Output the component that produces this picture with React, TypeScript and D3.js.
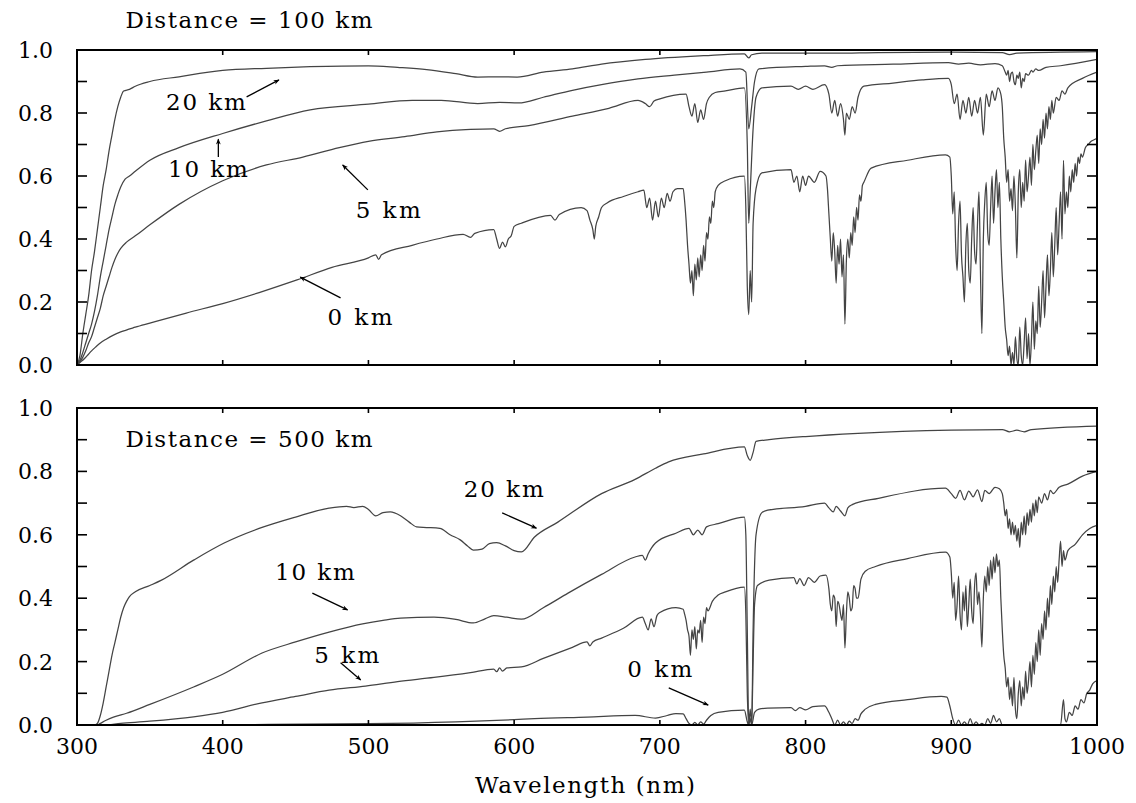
import React from "react";
import * as d3 from "d3";

type Pt = [number, number];

// ---------- Distance = 100 km ----------
const top20km: Pt[] = [
  [300, 0], [302, 0.03], [304, 0.1], [306, 0.16], [308, 0.22], [310, 0.3], [312, 0.36], [314, 0.43],
  [316, 0.5], [318, 0.57], [320, 0.62], [322, 0.68], [324, 0.73], [326, 0.78], [328, 0.82], [330, 0.85],
  [332, 0.87], [336, 0.875], [340, 0.885], [350, 0.9], [370, 0.915], [400, 0.935], [430, 0.942], [460, 0.947],
  [500, 0.95], [520, 0.945], [540, 0.938], [560, 0.925], [575, 0.914], [590, 0.915], [602, 0.914], [620, 0.93],
  [640, 0.94], [660, 0.955], [690, 0.97], [730, 0.982], [758, 0.988], [761, 0.975], [763, 0.985], [770, 0.99],
  [820, 0.99], [850, 0.992], [900, 0.993], [935, 0.992], [940, 0.985], [945, 0.99], [1000, 0.995],
];
const top10km: Pt[] = [
  [300, 0], [302, 0.015], [304, 0.04], [306, 0.07], [308, 0.1], [310, 0.13], [312, 0.17], [314, 0.22],
  [316, 0.28], [318, 0.33], [320, 0.38], [322, 0.43], [324, 0.47], [326, 0.51], [328, 0.54], [330, 0.565],
  [333, 0.59], [336, 0.6], [340, 0.615], [350, 0.65], [370, 0.69], [400, 0.735], [430, 0.775], [460, 0.81],
  [500, 0.828], [530, 0.84], [550, 0.84], [575, 0.83], [590, 0.834], [603, 0.832], [620, 0.85], [640, 0.872],
  [660, 0.89], [685, 0.908], [710, 0.92], [732, 0.93], [755, 0.94], [759, 0.93], [761, 0.75], [763, 0.82],
  [765, 0.9], [768, 0.94], [800, 0.948], [813, 0.95], [818, 0.945], [822, 0.95], [860, 0.955], [898, 0.96],
  [905, 0.955], [912, 0.958], [920, 0.953], [930, 0.957], [935, 0.95], [937, 0.93], [938, 0.92], [939, 0.935],
  [940, 0.9], [941, 0.925], [942, 0.93], [943, 0.9], [944, 0.89], [945, 0.92], [946, 0.91], [947, 0.93],
  [948, 0.88], [949, 0.91], [950, 0.9], [951, 0.925], [953, 0.92], [955, 0.935], [956, 0.93], [958, 0.94],
  [960, 0.935], [965, 0.945], [975, 0.95], [1000, 0.97],
];
const top5km: Pt[] = [
  [300, 0], [302, 0.01], [304, 0.025], [306, 0.045], [308, 0.07], [310, 0.09], [312, 0.12], [314, 0.15],
  [316, 0.18], [318, 0.22], [320, 0.25], [322, 0.28], [324, 0.31], [326, 0.335], [328, 0.355], [330, 0.37],
  [334, 0.39], [340, 0.41], [350, 0.445], [370, 0.51], [400, 0.585], [430, 0.635], [455, 0.66], [480, 0.69],
  [500, 0.71], [525, 0.725], [547, 0.74], [570, 0.748], [586, 0.75], [590, 0.742], [594, 0.75], [610, 0.76],
  [640, 0.79], [665, 0.815], [685, 0.84], [690, 0.83], [693, 0.82], [696, 0.838], [700, 0.845], [718, 0.86],
  [720, 0.82], [722, 0.79], [724, 0.83], [726, 0.77], [728, 0.81], [730, 0.78], [732, 0.83], [734, 0.85],
  [738, 0.865], [745, 0.87], [758, 0.88], [760, 0.7], [761, 0.45], [762, 0.55], [764, 0.75], [766, 0.85],
  [770, 0.88], [790, 0.885], [795, 0.875], [800, 0.885], [805, 0.875], [813, 0.89], [816, 0.86], [818, 0.8],
  [820, 0.84], [822, 0.79], [824, 0.83], [826, 0.78], [827, 0.73], [828, 0.8], [830, 0.78], [832, 0.82],
  [834, 0.8], [836, 0.85], [840, 0.885], [860, 0.895], [880, 0.905], [898, 0.91], [900, 0.89], [902, 0.83],
  [904, 0.86], [906, 0.78], [908, 0.84], [910, 0.8], [912, 0.85], [914, 0.79], [916, 0.84], [918, 0.8],
  [920, 0.85], [922, 0.73], [924, 0.86], [926, 0.82], [928, 0.87], [930, 0.84], [932, 0.88], [934, 0.86],
  [935, 0.82], [936, 0.72], [937, 0.66], [938, 0.58], [939, 0.62], [940, 0.52], [941, 0.56], [942, 0.49],
  [943, 0.6], [944, 0.5], [945, 0.34], [946, 0.55], [947, 0.62], [948, 0.5], [949, 0.58], [950, 0.52],
  [951, 0.65], [952, 0.55], [953, 0.6], [954, 0.66], [955, 0.57], [956, 0.7], [957, 0.62], [958, 0.68],
  [959, 0.73], [960, 0.64], [961, 0.75], [962, 0.7], [963, 0.78], [964, 0.72], [965, 0.8], [966, 0.75],
  [967, 0.82], [968, 0.78], [969, 0.84], [970, 0.8], [972, 0.85], [974, 0.84], [976, 0.87], [978, 0.86],
  [980, 0.88], [990, 0.91], [1000, 0.93],
];
const top0km: Pt[] = [
  [300, 0], [302, 0.008], [305, 0.02], [308, 0.035], [310, 0.045], [313, 0.058], [316, 0.07], [320, 0.082],
  [325, 0.095], [330, 0.105], [340, 0.12], [350, 0.133], [375, 0.165], [400, 0.195], [425, 0.23], [451, 0.27],
  [475, 0.31], [500, 0.34], [505, 0.35], [507, 0.335], [509, 0.35], [530, 0.38], [547, 0.4], [565, 0.415],
  [570, 0.405], [573, 0.418], [586, 0.43], [588, 0.4], [590, 0.37], [592, 0.39], [594, 0.375], [596, 0.4],
  [598, 0.41], [600, 0.44], [605, 0.45], [625, 0.475], [628, 0.46], [631, 0.478], [646, 0.5], [650, 0.49],
  [652, 0.46], [654, 0.43], [655, 0.4], [656, 0.44], [658, 0.47], [660, 0.5], [664, 0.515], [675, 0.535],
  [685, 0.55], [689, 0.555], [691, 0.5], [693, 0.53], [695, 0.46], [697, 0.52], [699, 0.47], [701, 0.53],
  [703, 0.5], [705, 0.545], [707, 0.52], [709, 0.55], [712, 0.56], [716, 0.56], [717, 0.52], [718, 0.46],
  [719, 0.38], [720, 0.32], [721, 0.26], [722, 0.3], [723, 0.22], [724, 0.32], [725, 0.27], [726, 0.34],
  [727, 0.28], [728, 0.35], [729, 0.3], [730, 0.38], [731, 0.33], [732, 0.42], [733, 0.4], [734, 0.47],
  [735, 0.45], [736, 0.52], [737, 0.5], [738, 0.55], [740, 0.57], [745, 0.585], [758, 0.6], [759, 0.5],
  [760, 0.25], [761, 0.16], [762, 0.3], [763, 0.2], [764, 0.45], [766, 0.56], [770, 0.61], [790, 0.62],
  [792, 0.58], [794, 0.6], [796, 0.55], [798, 0.6], [800, 0.57], [802, 0.6], [806, 0.58], [810, 0.615],
  [814, 0.6], [815, 0.56], [816, 0.48], [817, 0.4], [818, 0.33], [819, 0.42], [820, 0.36], [821, 0.26],
  [822, 0.38], [823, 0.32], [824, 0.4], [825, 0.28], [826, 0.35], [827, 0.13], [828, 0.33], [829, 0.4],
  [830, 0.34], [831, 0.42], [832, 0.38], [833, 0.47], [834, 0.42], [835, 0.5], [836, 0.46], [837, 0.54],
  [838, 0.52], [839, 0.57], [840, 0.58], [845, 0.625], [870, 0.65], [896, 0.667], [899, 0.66], [900, 0.6],
  [901, 0.48], [902, 0.55], [903, 0.38], [904, 0.3], [905, 0.45], [906, 0.52], [907, 0.35], [908, 0.28],
  [909, 0.2], [910, 0.38], [911, 0.45], [912, 0.3], [913, 0.26], [914, 0.4], [915, 0.5], [916, 0.36],
  [917, 0.32], [918, 0.45], [919, 0.55], [920, 0.3], [921, 0.1], [922, 0.4], [923, 0.52], [924, 0.58],
  [925, 0.42], [926, 0.38], [927, 0.5], [928, 0.6], [929, 0.45], [930, 0.55], [931, 0.62], [932, 0.5],
  [933, 0.58], [934, 0.4], [935, 0.28], [936, 0.2], [937, 0.12], [938, 0.08], [939, 0.03], [940, 0.06],
  [941, 0.0], [942, 0.04], [943, 0.0], [944, 0.09], [945, 0.02], [946, 0.0], [947, 0.12], [948, 0.03],
  [949, 0.0], [950, 0.07], [951, 0.15], [952, 0.02], [953, 0.1], [954, 0.0], [955, 0.08], [956, 0.2],
  [957, 0.05], [958, 0.14], [959, 0.1], [960, 0.25], [961, 0.12], [962, 0.2], [963, 0.3], [964, 0.15],
  [965, 0.25], [966, 0.35], [967, 0.22], [968, 0.3], [969, 0.42], [970, 0.28], [971, 0.38], [972, 0.5],
  [973, 0.35], [974, 0.45], [975, 0.55], [976, 0.4], [977, 0.65], [978, 0.48], [979, 0.55], [980, 0.5],
  [981, 0.6], [982, 0.55], [983, 0.62], [984, 0.58], [985, 0.64], [986, 0.6], [987, 0.66], [988, 0.64],
  [989, 0.67], [990, 0.66], [992, 0.69], [994, 0.7], [996, 0.71], [998, 0.715], [1000, 0.72],
];

// ---------- Distance = 500 km ----------
const bot20km: Pt[] = [
  [300, 0], [312, 0], [314, 0.005], [316, 0.03], [318, 0.07], [320, 0.12], [322, 0.17], [324, 0.22],
  [326, 0.26], [328, 0.3], [330, 0.34], [332, 0.37], [334, 0.39], [336, 0.405], [340, 0.42], [350, 0.44],
  [358, 0.457], [380, 0.52], [401, 0.574], [425, 0.62], [450, 0.656], [473, 0.684], [485, 0.69], [490, 0.686],
  [496, 0.69], [500, 0.68], [505, 0.66], [510, 0.67], [515, 0.672], [522, 0.66], [528, 0.64], [533, 0.625],
  [540, 0.623], [549, 0.62], [556, 0.6], [563, 0.584], [568, 0.565], [572, 0.552], [578, 0.555], [583, 0.572],
  [588, 0.575], [594, 0.565], [600, 0.55], [605, 0.546], [614, 0.593], [630, 0.64], [660, 0.73], [683, 0.775],
  [697, 0.81], [706, 0.83], [730, 0.855], [758, 0.877], [760, 0.85], [762, 0.835], [764, 0.86], [766, 0.895],
  [775, 0.9], [800, 0.91], [836, 0.92], [900, 0.93], [935, 0.932], [940, 0.925], [945, 0.93], [950, 0.925],
  [955, 0.932], [1000, 0.943],
];
const bot10km: Pt[] = [
  [300, 0], [314, 0], [316, 0.005], [320, 0.015], [325, 0.025], [334, 0.037], [350, 0.065], [380, 0.12],
  [400, 0.16], [427, 0.227], [450, 0.262], [473, 0.293], [496, 0.319], [510, 0.33], [522, 0.337], [545, 0.34],
  [560, 0.333], [572, 0.322], [580, 0.335], [586, 0.345], [595, 0.34], [605, 0.334], [620, 0.37], [637, 0.416],
  [660, 0.475], [683, 0.53], [688, 0.535], [690, 0.52], [692, 0.54], [697, 0.574], [711, 0.605], [720, 0.62],
  [723, 0.6], [726, 0.615], [729, 0.6], [732, 0.625], [740, 0.635], [758, 0.656], [759, 0.6], [760, 0.3],
  [761, 0.0], [762, 0.05], [763, 0.0], [764, 0.3], [766, 0.6], [770, 0.67], [774, 0.678], [800, 0.69],
  [813, 0.7], [816, 0.685], [819, 0.672], [821, 0.69], [824, 0.675], [827, 0.66], [829, 0.685], [832, 0.695],
  [850, 0.715], [896, 0.747], [900, 0.73], [903, 0.715], [906, 0.74], [909, 0.71], [912, 0.738], [915, 0.72],
  [918, 0.742], [921, 0.705], [923, 0.74], [926, 0.73], [930, 0.75], [933, 0.745], [935, 0.73], [936, 0.7],
  [937, 0.66], [938, 0.68], [939, 0.62], [940, 0.65], [941, 0.6], [942, 0.64], [943, 0.6], [944, 0.63],
  [945, 0.58], [946, 0.62], [947, 0.56], [948, 0.64], [949, 0.6], [950, 0.66], [951, 0.6], [952, 0.67],
  [953, 0.63], [954, 0.68], [955, 0.64], [956, 0.7], [957, 0.66], [958, 0.71], [959, 0.67], [960, 0.72],
  [962, 0.7], [964, 0.73], [966, 0.71], [968, 0.74], [970, 0.73], [974, 0.75], [980, 0.76], [990, 0.785],
  [1000, 0.8],
];
const bot5km: Pt[] = [
  [300, 0], [318, 0], [330, 0.005], [350, 0.012], [380, 0.026], [400, 0.04], [427, 0.07], [450, 0.09],
  [473, 0.11], [498, 0.123], [520, 0.137], [545, 0.15], [570, 0.165], [586, 0.176], [588, 0.168], [590, 0.18],
  [592, 0.17], [595, 0.18], [605, 0.183], [620, 0.21], [640, 0.245], [650, 0.262], [652, 0.25], [654, 0.262],
  [660, 0.274], [675, 0.305], [688, 0.34], [690, 0.32], [692, 0.3], [694, 0.335], [696, 0.31], [698, 0.345],
  [700, 0.355], [711, 0.37], [716, 0.365], [717, 0.35], [718, 0.33], [719, 0.3], [720, 0.28], [721, 0.22],
  [722, 0.3], [723, 0.27], [724, 0.31], [725, 0.24], [726, 0.3], [727, 0.29], [728, 0.33], [729, 0.26],
  [730, 0.34], [731, 0.32], [732, 0.37], [733, 0.36], [736, 0.39], [740, 0.41], [745, 0.42], [758, 0.435],
  [759, 0.35], [760, 0.1], [761, 0.0], [762, 0.02], [763, 0.0], [764, 0.2], [765, 0.38], [767, 0.44],
  [775, 0.457], [792, 0.465], [794, 0.445], [796, 0.462], [799, 0.44], [802, 0.465], [806, 0.45], [810, 0.47],
  [814, 0.473], [816, 0.43], [817, 0.38], [818, 0.36], [819, 0.41], [820, 0.4], [821, 0.31], [822, 0.39],
  [823, 0.38], [824, 0.35], [825, 0.33], [826, 0.38], [827, 0.243], [828, 0.35], [829, 0.42], [830, 0.4],
  [831, 0.36], [832, 0.37], [833, 0.44], [834, 0.43], [835, 0.4], [836, 0.4], [838, 0.46], [841, 0.485],
  [848, 0.5], [870, 0.525], [896, 0.545], [899, 0.53], [900, 0.48], [901, 0.4], [902, 0.45], [903, 0.33],
  [904, 0.38], [905, 0.47], [906, 0.35], [907, 0.3], [908, 0.42], [909, 0.36], [910, 0.44], [911, 0.31],
  [912, 0.38], [913, 0.46], [914, 0.36], [915, 0.32], [916, 0.44], [917, 0.48], [918, 0.38], [919, 0.42],
  [920, 0.35], [921, 0.246], [922, 0.4], [923, 0.47], [924, 0.42], [925, 0.5], [926, 0.44], [927, 0.52],
  [928, 0.46], [929, 0.53], [930, 0.48], [931, 0.54], [932, 0.5], [933, 0.52], [934, 0.4], [935, 0.3],
  [936, 0.22], [937, 0.18], [938, 0.12], [939, 0.15], [940, 0.08], [941, 0.12], [942, 0.06], [943, 0.15],
  [944, 0.05], [945, 0.02], [946, 0.1], [947, 0.14], [948, 0.06], [949, 0.12], [950, 0.08], [951, 0.17],
  [952, 0.1], [953, 0.14], [954, 0.2], [955, 0.12], [956, 0.22], [957, 0.16], [958, 0.26], [959, 0.2],
  [960, 0.3], [961, 0.22], [962, 0.32], [963, 0.27], [964, 0.36], [965, 0.3], [966, 0.4], [967, 0.34],
  [968, 0.44], [969, 0.38], [970, 0.47], [971, 0.42], [972, 0.5], [973, 0.45], [974, 0.52], [975, 0.58],
  [976, 0.5], [977, 0.55], [978, 0.52], [980, 0.55], [985, 0.57], [990, 0.6], [995, 0.62], [1000, 0.63],
];
const bot0km: Pt[] = [
  [300, 0], [330, 0], [400, 0.001], [500, 0.004], [560, 0.01], [600, 0.017], [614, 0.02], [650, 0.025],
  [683, 0.03], [697, 0.022], [705, 0.03], [711, 0.036], [716, 0.035], [718, 0.02], [720, 0.005], [722, 0.0],
  [724, 0.008], [726, 0.0], [728, 0.01], [730, 0.003], [732, 0.015], [735, 0.03], [740, 0.04], [758, 0.047],
  [760, 0.01], [761, 0.0], [763, 0.0], [765, 0.04], [768, 0.05], [774, 0.053], [790, 0.055], [793, 0.045],
  [796, 0.055], [800, 0.048], [805, 0.058], [813, 0.06], [816, 0.04], [818, 0.02], [820, 0.0], [822, 0.015],
  [824, 0.0], [826, 0.01], [828, 0.0], [830, 0.012], [832, 0.005], [834, 0.02], [836, 0.015], [838, 0.035],
  [841, 0.05], [848, 0.065], [870, 0.08], [893, 0.09], [897, 0.088], [899, 0.06], [901, 0.02], [903, 0.0],
  [905, 0.015], [907, 0.0], [909, 0.01], [911, 0.0], [913, 0.02], [915, 0.0], [917, 0.01], [919, 0.0],
  [921, 0.005], [923, 0.0], [925, 0.02], [927, 0.005], [929, 0.03], [931, 0.01], [933, 0.02], [935, 0.0],
  [975, 0.0], [977, 0.08], [978, 0.02], [979, 0.01], [981, 0.04], [983, 0.03], [985, 0.06], [987, 0.05],
  [989, 0.08], [991, 0.07], [993, 0.1], [995, 0.11], [997, 0.13], [1000, 0.14],
];

const xTicks = [300, 400, 500, 600, 700, 800, 900, 1000];
const yLabelTicks = [0, 0.2, 0.4, 0.6, 0.8, 1.0];
const yMinorTicks = [0, 0.1, 0.2, 0.3, 0.4, 0.5, 0.6, 0.7, 0.8, 0.9, 1.0];
const panelTitles = ["Distance = 100 km", "Distance = 500 km"];
const seriesNames = ["20 km", "10 km", "5 km", "0 km"];
const xAxisTitle = "Wavelength (nm)";

// annotations: label anchor (wavelength, value), arrow tail and head in data units
type Ann = { text: string; at: Pt; tail: Pt; head: Pt };
const topAnnotations: Ann[] = [
  { text: seriesNames[0], at: [361, 0.81], tail: [416.4, 0.851], head: [438.6, 0.905] },
  { text: seriesNames[1], at: [362.4, 0.597], tail: [397.0, 0.66], head: [397.0, 0.717] },
  { text: seriesNames[2], at: [491.3, 0.467], tail: [499.6, 0.556], head: [482.3, 0.635] },
  { text: seriesNames[3], at: [471.9, 0.127], tail: [480.9, 0.213], head: [453.2, 0.279] },
];
const botAnnotations: Ann[] = [
  { text: seriesNames[0], at: [565.4, 0.719], tail: [591.8, 0.669], head: [615.3, 0.621] },
  { text: seriesNames[1], at: [435.8, 0.457], tail: [461.5, 0.416], head: [485.7, 0.363] },
  { text: seriesNames[2], at: [462.9, 0.196], tail: [480.9, 0.196], head: [494.7, 0.142] },
  { text: seriesNames[3], at: [677.7, 0.151], tail: [706.1, 0.117], head: [733.2, 0.063] },
];
const titleAnchors: Pt[] = [[333.3, 1.07], [333.3, 0.877]];

const FONT = "'DejaVu Serif', 'Liberation Serif', serif";
const W = 1136;
const H = 803;
const LEFT = 77;
const RIGHT = 1097;

const panelsLayout = [
  { top: 50, bottom: 365, series: [top20km, top10km, top5km, top0km], ann: topAnnotations, showX: false },
  { top: 408, bottom: 725, series: [bot20km, bot10km, bot5km, bot0km], ann: botAnnotations, showX: true },
];

const x = d3.scaleLinear().domain([300, 1000]).range([LEFT, RIGHT]);

function Panel({ idx }: { idx: number }) {
  const p = panelsLayout[idx];
  const y = d3.scaleLinear().domain([0, 1]).range([p.bottom, p.top]);
  const line = d3
    .line<Pt>()
    .x((d) => x(d[0]))
    .y((d) => y(d[1]))
    .curve(d3.curveMonotoneX);
  const clipId = `clip${idx}`;
  return (
    <g>
      <defs>
        <clipPath id={clipId}>
          <rect x={LEFT} y={p.top} width={RIGHT - LEFT} height={p.bottom - p.top} />
        </clipPath>
      </defs>
      <g clipPath={`url(#${clipId})`}>
        {p.series.map((s, i) => (
          <path key={i} d={line(s) || ""} fill="none" stroke="#444" strokeWidth={1.25} />
        ))}
      </g>
      <rect x={LEFT} y={p.top} width={RIGHT - LEFT} height={p.bottom - p.top} fill="none" stroke="#000" strokeWidth={2} />
      {yMinorTicks.map((t) => (
        <g key={t}>
          <line x1={LEFT} x2={LEFT + 10} y1={y(t)} y2={y(t)} stroke="#000" strokeWidth={1.6} />
          <line x1={RIGHT - 10} x2={RIGHT} y1={y(t)} y2={y(t)} stroke="#000" strokeWidth={1.6} />
        </g>
      ))}
      {xTicks.map((t) => (
        <g key={t}>
          <line x1={x(t)} x2={x(t)} y1={p.top} y2={p.top + 5} stroke="#000" strokeWidth={1.6} />
          <line x1={x(t)} x2={x(t)} y1={p.bottom - 5} y2={p.bottom} stroke="#000" strokeWidth={1.6} />
        </g>
      ))}
      {yLabelTicks.map((t) => (
        <text key={t} x={53} y={y(t) + 8} textAnchor="end" fontFamily={FONT} fontSize={22} fill="#000">
          {t.toFixed(1)}
        </text>
      ))}
      {p.showX &&
        xTicks.map((t) => (
          <text key={t} x={x(t)} y={754} textAnchor="middle" fontFamily={FONT} fontSize={22} fill="#000">
            {t}
          </text>
        ))}
      <text
        x={x(titleAnchors[idx][0])}
        y={y(titleAnchors[idx][1])}
        fontFamily={FONT}
        fontSize={23}
        textLength={247}
        lengthAdjust="spacing"
        fill="#000"
      >
        {panelTitles[idx]}
      </text>
      {p.ann.map((a, i) => (
        <g key={i}>
          <text
            x={x(a.at[0])}
            y={y(a.at[1])}
            fontFamily={FONT}
            fontSize={23}
            textLength={a.text.length === 5 ? 80 : 65}
            lengthAdjust="spacing"
            fill="#000"
          >
            {a.text}
          </text>
          <line
            x1={x(a.tail[0])}
            y1={y(a.tail[1])}
            x2={x(a.head[0])}
            y2={y(a.head[1])}
            stroke="#000"
            strokeWidth={1.3}
            markerEnd="url(#arrowhead)"
          />
        </g>
      ))}
    </g>
  );
}

export default function App() {
  return (
    <svg
      width={W}
      height={H}
      viewBox={`0 0 ${W} ${H}`}
      style={{ position: "absolute", left: 0, top: 0, background: "#fff" }}
    >
      <defs>
        <marker id="arrowhead" viewBox="0 0 10 10" refX="9" refY="5" markerWidth="7" markerHeight="6" orient="auto" markerUnits="userSpaceOnUse">
          <path d="M0,1 L10,5 L0,9 L3,5 z" fill="#000" />
        </marker>
      </defs>
      <rect x={0} y={0} width={W} height={H} fill="#fff" />
      <Panel idx={0} />
      <Panel idx={1} />
      <text x={585} y={793} textAnchor="middle" fontFamily={FONT} fontSize={23} textLength={220} lengthAdjust="spacing" fill="#000">
        {xAxisTitle}
      </text>
    </svg>
  );
}
